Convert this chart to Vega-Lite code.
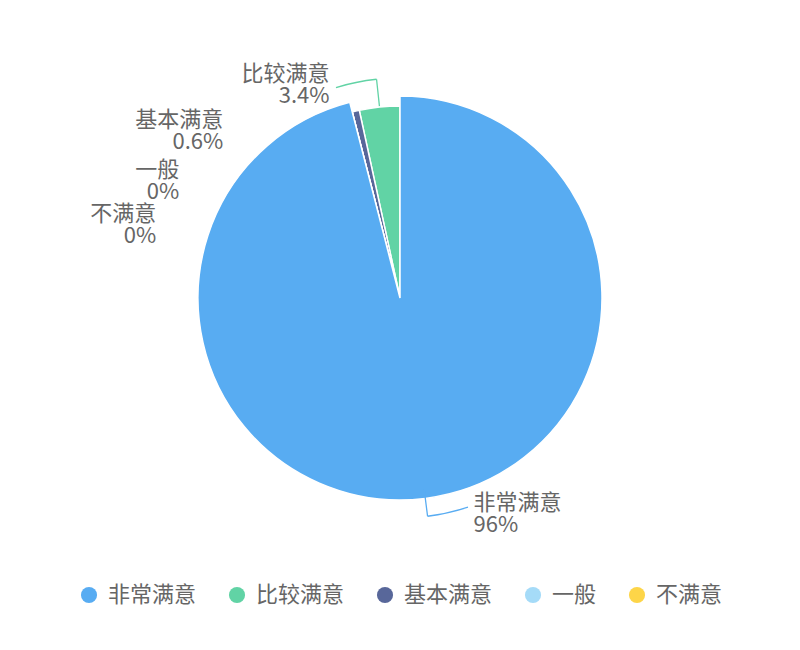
{
  "$schema": "https://vega.github.io/schema/vega-lite/v6.json",
  "width": 800,
  "height": 596,
  "autosize": {"type": "none"},
  "padding": {"left": 0, "top": 0, "right": 0, "bottom": 54},
  "background": "white",
  "data": {
    "values": [
      {"name": "非常满意", "value": 96},
      {"name": "比较满意", "value": 3.4},
      {"name": "基本满意", "value": 0.6},
      {"name": "一般", "value": 0},
      {"name": "不满意", "value": 0}
    ]
  },
  "transform": [
    {"calculate": "indexof(['非常满意','一般','不满意','基本满意','比较满意'], datum.name)", "as": "ord"},
    {"stack": "value", "groupby": [], "sort": [{"field": "ord", "order": "ascending"}], "as": ["s0", "s1"]},
    {"calculate": "(datum.s0 + datum.s1) / 2", "as": "mid"},
    {"calculate": "datum.mid - 3", "as": "midEnd"},
    {"calculate": "datum.name + '\\n' + datum.value + '%'", "as": "label"}
  ],
  "config": {
    "view": {"stroke": null},
    "font": "Noto Sans CJK SC"
  },
  "layer": [
    {
      "transform": [{"filter": "datum.name !== '非常满意'"}],
      "mark": {"type": "arc", "radius": 192, "stroke": "white", "strokeWidth": 1.5},
      "encoding": {
        "theta": {"field": "s0", "type": "quantitative", "scale": {"domain": [0, 100], "range": [0, 6.283185307179586]}},
        "theta2": {"field": "s1"},
        "color": {
          "field": "name",
          "type": "nominal",
          "scale": {
            "domain": ["非常满意", "比较满意", "基本满意", "一般", "不满意"],
            "range": ["#58acf2", "#61d3a5", "#58679a", "#a5dbf8", "#fdd548"]
          },
          "legend": {
            "title": null,
            "orient": "none",
            "legendX": 78,
            "legendY": 584,
            "direction": "horizontal",
            "symbolType": "circle",
            "symbolSize": 260,
            "symbolStrokeWidth": 0,
            "labelFontSize": 22,
            "labelColor": "#666666",
            "labelFont": "Noto Sans CJK SC",
            "labelOffset": 8,
            "columnPadding": 29
          }
        }
      }
    },
    {
      "transform": [{"filter": "datum.name === '非常满意'"}],
      "mark": {"type": "arc", "radius": 202, "stroke": "white", "strokeWidth": 1.5},
      "encoding": {
        "theta": {"field": "s0", "type": "quantitative"},
        "theta2": {"field": "s1"},
        "color": {"field": "name", "type": "nominal"}
      }
    },
    {
      "transform": [{"filter": "datum.name === '非常满意' || datum.name === '比较满意'"}],
      "mark": {"type": "arc", "filled": false, "radius": 220, "radius2": 193, "strokeWidth": 1.3},
      "encoding": {
        "theta": {"field": "mid", "type": "quantitative"},
        "theta2": {"field": "mid"},
        "stroke": {
          "field": "name",
          "type": "nominal",
          "scale": {
            "domain": ["非常满意", "比较满意", "基本满意", "一般", "不满意"],
            "range": ["#58acf2", "#61d3a5", "#58679a", "#a5dbf8", "#fdd548"]
          },
          "legend": null
        }
      }
    },
    {
      "transform": [{"filter": "datum.name === '非常满意' || datum.name === '比较满意'"}],
      "mark": {"type": "arc", "filled": false, "radius": 220, "radius2": 220, "strokeWidth": 1.3},
      "encoding": {
        "theta": {"field": "mid", "type": "quantitative"},
        "theta2": {"field": "midEnd"},
        "stroke": {"field": "name", "type": "nominal", "legend": null}
      }
    },
    {
      "transform": [{"filter": "datum.name === '非常满意'"}],
      "mark": {"type": "text", "align": "left", "baseline": "top", "fontSize": 22, "lineHeight": 22, "lineBreak": "\n", "color": "#666666", "dx": 46, "dy": -23},
      "encoding": {
        "theta": {"field": "mid", "type": "quantitative", "stack": null},
        "radius": {"value": 220},
        "text": {"field": "label"}
      }
    },
    {
      "transform": [{"filter": "datum.name === '比较满意'"}],
      "mark": {"type": "text", "align": "right", "baseline": "top", "fontSize": 22, "lineHeight": 22, "lineBreak": "\n", "color": "#666666", "dx": -47, "dy": -15},
      "encoding": {
        "theta": {"field": "mid", "type": "quantitative", "stack": null},
        "radius": {"value": 220},
        "text": {"field": "label"}
      }
    },
    {
      "transform": [{"filter": "datum.name === '基本满意'"}],
      "mark": {"type": "text", "align": "right", "baseline": "top", "fontSize": 22, "lineHeight": 22, "lineBreak": "\n", "color": "#666666", "dx": -126, "dy": 26},
      "encoding": {
        "theta": {"field": "mid", "type": "quantitative", "stack": null},
        "radius": {"value": 220},
        "text": {"field": "label"}
      }
    },
    {
      "transform": [{"filter": "datum.name === '一般'"}],
      "mark": {"type": "text", "align": "right", "baseline": "top", "fontSize": 22, "lineHeight": 22, "lineBreak": "\n", "color": "#666666", "dx": -166, "dy": 75},
      "encoding": {
        "theta": {"field": "mid", "type": "quantitative", "stack": null},
        "radius": {"value": 220},
        "text": {"field": "label"}
      }
    },
    {
      "transform": [{"filter": "datum.name === '不满意'"}],
      "mark": {"type": "text", "align": "right", "baseline": "top", "fontSize": 22, "lineHeight": 22, "lineBreak": "\n", "color": "#666666", "dx": -189, "dy": 119},
      "encoding": {
        "theta": {"field": "mid", "type": "quantitative", "stack": null},
        "radius": {"value": 220},
        "text": {"field": "label"}
      }
    }
  ]
}
